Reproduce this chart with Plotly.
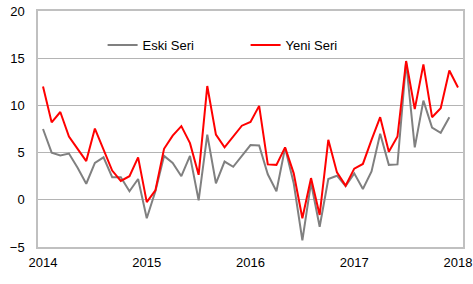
import plotly.graph_objects as go

months = list(range(49))
tick_vals = [0, 12, 24, 36, 48]
tick_text = ["2014", "2015", "2016", "2017", "2018"]

eski_seri = [7.5, 5.0, 4.7, 4.9, 3.4, 1.7, 3.9, 4.5, 2.4, 2.4, 0.9, 2.2,
             -1.95, 0.9, 4.65, 3.9, 2.5, 4.65, -0.05, 6.9, 1.75, 4.05, 3.5, 4.6,
             5.8, 5.75, 2.7, 0.9, 5.5, 1.75, -4.3, 1.8, -2.85, 2.2, 2.55, 1.45,
             2.8, 1.15, 3.0, 7.0, 3.7, 3.75, 14.6, 5.55, 10.5, 7.65, 7.1, 8.75]

yeni_seri = [12.0, 8.2, 9.3, 6.7, 5.4, 4.1, 7.55, 5.3, 3.1, 2.0, 2.5, 4.5,
             -0.25, 1.0, 5.4, 6.8, 7.8, 6.0, 2.65, 12.05, 6.9, 5.55, 6.7, 7.85,
             8.25, 9.95, 3.75, 3.7, 5.55, 2.8, -1.95, 2.3, -1.6, 6.35, 2.9, 1.5,
             3.3, 3.8, 6.35, 8.75, 5.1, 6.7, 14.7, 9.6, 14.35, 8.75, 9.7, 13.7, 11.9]

fig = go.Figure()
fig.add_trace(go.Scatter(x=months[:len(eski_seri)], y=eski_seri, mode="lines",
                         name="Eski Seri", line=dict(color="#808080", width=2)))
fig.add_trace(go.Scatter(x=months[:len(yeni_seri)], y=yeni_seri, mode="lines",
                         name="Yeni Seri", line=dict(color="#ff0000", width=2)))

font = dict(family="Liberation Sans, Arial, sans-serif", size=13, color="#000000")

fig.update_layout(
    width=473, height=284,
    margin=dict(l=38, r=10, t=11, b=37, autoexpand=False),
    paper_bgcolor="white", plot_bgcolor="white",
    font=font,
    showlegend=True,
    legend=dict(orientation="h", x=0.152, y=0.856, xanchor="left", yanchor="middle",
                bgcolor="rgba(0,0,0,0)", font=font,
                entrywidth=98, entrywidthmode="pixels", itemwidth=30),
    xaxis=dict(range=[-0.58, 48.58], tickmode="array", tickvals=tick_vals,
               ticktext=tick_text, showgrid=False, zeroline=False,
               showline=True, mirror=True, linecolor="#c0c0c0", linewidth=1.5,
               ticks="", ticklabelstandoff=3, automargin=False),
    yaxis=dict(range=[-5, 20], tickmode="array", tickvals=[-5, 0, 5, 10, 15, 20],
               showgrid=True, gridcolor="#b4b4b4", gridwidth=1.2, zeroline=False,
               showline=True, mirror=True, linecolor="#c0c0c0", linewidth=1.5,
               ticks="", ticklabelstandoff=9, automargin=False),
)

fig.write_html("out.html")
